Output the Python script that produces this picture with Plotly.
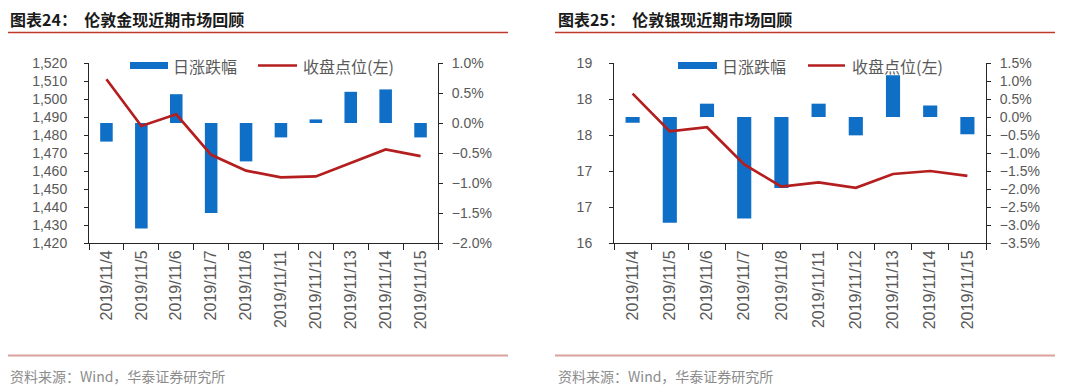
import plotly.graph_objects as go

# ---------------- data ----------------
dates = ["2019/11/4", "2019/11/5", "2019/11/6", "2019/11/7", "2019/11/8",
         "2019/11/11", "2019/11/12", "2019/11/13", "2019/11/14", "2019/11/15"]

gold_close = [1511.0, 1485.0, 1491.5, 1469.0, 1460.2, 1456.5, 1457.0, 1464.3, 1472.0, 1468.3]
gold_chg = [-0.31, -1.76, 0.48, -1.50, -0.64, -0.24, 0.06, 0.52, 0.56, -0.24]

silver_close = [18.49, 17.86, 17.93, 17.31, 16.94, 17.01, 16.92, 17.15, 17.20, 17.12]
silver_chg = [-0.16, -2.94, 0.37, -2.82, -1.97, 0.37, -0.51, 1.16, 0.32, -0.48]

silver_left_tickvals = [16, 16.6, 17.2, 17.8, 18.4, 19]
silver_left_ticktext = ["16", "17", "17", "18", "18", "19"]

titles = ["图表24：  伦敦金现近期市场回顾", "图表25：  伦敦银现近期市场回顾"]
source = "资料来源：Wind，华泰证券研究所"
bar_name = "日涨跌幅"
line_name = "收盘点位(左)"

# ---------------- style ----------------
W, H = 1080, 390
OFF = 8  # page body margin offset
BLUE = "#0F6FC6"
RED = "#B41E1E"
TICK_COLOR = "#595959"
AXIS_COLOR = "#262626"
CJK = "Noto Sans CJK SC"
NUM = "Liberation Sans"


def px_x(p):
    return (p - OFF) / W


def px_y(p):
    return 1 - (p - OFF) / H


fig = go.Figure()

# gold
fig.add_trace(go.Bar(x=dates, y=gold_chg, xaxis="x", yaxis="y2", marker_color=BLUE,
                     marker_line_width=0, width=0.36, showlegend=False, name=bar_name))
fig.add_trace(go.Scatter(x=dates, y=gold_close, xaxis="x", yaxis="y", mode="lines",
                         line=dict(color=RED, width=2.7), showlegend=False, name=line_name))
# silver
fig.add_trace(go.Bar(x=dates, y=silver_chg, xaxis="x2", yaxis="y4", marker_color=BLUE,
                     marker_line_width=0, width=0.38, showlegend=False, name=bar_name))
fig.add_trace(go.Scatter(x=dates, y=silver_close, xaxis="x2", yaxis="y3", mode="lines",
                         line=dict(color=RED, width=2.7), showlegend=False, name=line_name))

tickfont = dict(family=NUM, size=14, color=TICK_COLOR)
xfont = dict(family=NUM, size=16, color=TICK_COLOR)

common_x = dict(type="category", showline=True, linecolor=AXIS_COLOR, linewidth=1,
                ticks="outside", ticklen=6, tickcolor=AXIS_COLOR, tickson="boundaries",
                tickangle=-90, tickfont=xfont, showgrid=False, zeroline=False,
                automargin=False)
common_y = dict(showline=True, linecolor=AXIS_COLOR, linewidth=1, ticks="outside",
                ticklen=4, tickcolor=AXIS_COLOR, tickfont=tickfont, showgrid=False,
                zeroline=False, automargin=False)

gold_dom_x = [px_x(89), px_x(438)]
silver_dom_x = [px_x(614), px_x(986)]
dom_y = [px_y(243), px_y(63)]

fig.update_layout(
    width=W, height=H, margin=dict(l=0, r=0, t=0, b=0, pad=0, autoexpand=False),
    paper_bgcolor="white", plot_bgcolor="rgba(0,0,0,0)",
    barmode="overlay",
    xaxis=dict(domain=gold_dom_x, anchor="y2", **common_x),
    yaxis2=dict(domain=dom_y, anchor="x", side="right", range=[-2.0, 1.0], dtick=0.5,
                tickformat=".1f", ticksuffix="%", ticklabelstandoff=6, **common_y),
    yaxis=dict(anchor="x", overlaying="y2", side="left", range=[1420, 1520], dtick=10,
               tickformat=",d", ticklabelstandoff=14, **common_y),
    xaxis2=dict(domain=silver_dom_x, anchor="y4", **common_x),
    yaxis4=dict(domain=dom_y, anchor="x2", side="right", range=[-3.5, 1.5], dtick=0.5,
                tickformat=".1f", ticksuffix="%", ticklabelstandoff=6, **common_y),
    yaxis3=dict(anchor="x2", overlaying="y4", side="left", range=[16, 19],
                tickvals=silver_left_tickvals, ticktext=silver_left_ticktext,
                ticklabelstandoff=14, **common_y),
)

shapes = []
annotations = []

panels = [
    dict(x0=8, x1=508, tx=8, leg_rect=(130, 168), leg_text1=171, leg_line=(258, 297), leg_text2=301),
    dict(x0=555, x1=1055, tx=556, leg_rect=(678, 717), leg_text1=720, leg_line=(808, 845), leg_text2=850),
]

for i, p in enumerate(panels):
    # title
    annotations.append(dict(text="<b>" + titles[i] + "</b>", x=px_x(p["tx"]), y=px_y(19),
                            xref="paper", yref="paper", xanchor="left", yanchor="middle",
                            showarrow=False, font=dict(family=CJK, size=16, color="#1a1a1a")))
    # title rule
    shapes.append(dict(type="line", xref="paper", yref="paper", x0=px_x(p["x0"]), x1=px_x(p["x1"]),
                       y0=px_y(32.5), y1=px_y(32.5), line=dict(color="#C0392B", width=1.5)))
    # bottom rule
    shapes.append(dict(type="line", xref="paper", yref="paper", x0=px_x(p["x0"]), x1=px_x(p["x1"]),
                       y0=px_y(355.5), y1=px_y(355.5), line=dict(color="#D9A29C", width=2)))
    # source
    annotations.append(dict(text=source, x=px_x(p["tx"]), y=px_y(376), xref="paper", yref="paper",
                            xanchor="left", yanchor="middle", showarrow=False,
                            font=dict(family=CJK, size=14, color="#8C8C8C")))
    # legend
    shapes.append(dict(type="rect", xref="paper", yref="paper",
                       x0=px_x(p["leg_rect"][0]), x1=px_x(p["leg_rect"][1]),
                       y0=px_y(69), y1=px_y(62), fillcolor=BLUE, line=dict(width=0)))
    annotations.append(dict(text=bar_name, x=px_x(p["leg_text1"]), y=px_y(65.5), xref="paper",
                            yref="paper", xanchor="left", yanchor="middle", showarrow=False,
                            font=dict(family=CJK, size=16, color=TICK_COLOR)))
    shapes.append(dict(type="line", xref="paper", yref="paper",
                       x0=px_x(p["leg_line"][0]), x1=px_x(p["leg_line"][1]),
                       y0=px_y(65.5), y1=px_y(65.5), line=dict(color=RED, width=2.7)))
    annotations.append(dict(text=line_name, x=px_x(p["leg_text2"]), y=px_y(65.5), xref="paper",
                            yref="paper", xanchor="left", yanchor="middle", showarrow=False,
                            font=dict(family=CJK, size=16, color=TICK_COLOR)))

fig.update_layout(shapes=shapes, annotations=annotations)

fig.write_html("out.html")
